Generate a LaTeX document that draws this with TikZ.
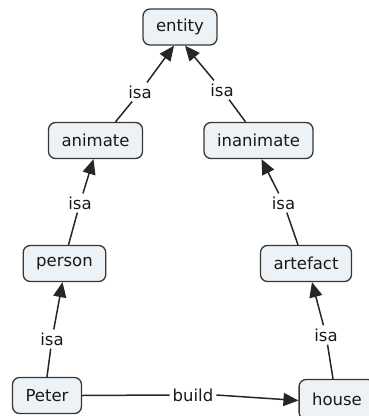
\documentclass[tikz,border=0pt]{standalone}
\usepackage{fontspec}
\setmainfont{DejaVu Sans}
\usetikzlibrary{arrows.meta}
\definecolor{conceptfill}{RGB}{236,242,245}
\definecolor{conceptline}{RGB}{55,55,55}
\definecolor{inktext}{RGB}{25,25,25}
\tikzset{
  concept/.style={draw=conceptline, line width=1.3pt, fill=conceptfill,
    rounded corners=7pt, inner xsep=13pt, inner ysep=0pt,
    minimum height=36pt, text=inktext,
    font=\fontsize{16.5}{18}\selectfont},
  linkword/.style={inner sep=3pt, text=inktext,
    font=\fontsize{16.5}{18}\selectfont},
  link/.style={line width=1.5pt, draw=black!85},
  linkarrow/.style={link, -{Triangle[length=15pt,width=13pt]}}
}
\begin{document}
\begin{tikzpicture}[x=1pt,y=-1pt]
  \useasboundingbox (0,0) rectangle (369,416);

  % concepts
  \node[concept] (entity)    at (180,27)    {entity};
  \node[concept] (animate)   at (95.5,140.5) {animate};
  \node[concept] (inanimate) at (258.5,140.5) {inanimate};
  \node[concept] (person)    at (64.5,263.5) {person};
  \node[concept] (artefact)  at (306,263.5) {artefact};
  \node[concept] (peter)     at (47,395.5)  {Peter};
  \node[concept, minimum height=40pt] (house) at (337,399.5) {house};

  % linking phrases
  \node[linkword] (l1) at (140,92)  {isa};
  \node[linkword] (l2) at (222,90)  {isa};
  \node[linkword] (l3) at (80,203)  {isa};
  \node[linkword] (l4) at (283.5,203) {isa};
  \node[linkword] (l5) at (52,339)  {isa};
  \node[linkword] (l6) at (326,335) {isa};
  \node[linkword] (l7) at (193,395) {build};

  % animate isa entity
  \draw[link] ([xshift=20pt]animate.north) -- (l1);
  \draw[linkarrow] (l1) -- ([xshift=-6pt]entity.south);
  % inanimate isa entity
  \draw[link] ([xshift=-13pt]inanimate.north) -- (l2);
  \draw[linkarrow] (l2) -- ([xshift=5pt]entity.south);
  % person isa animate
  \draw[link] ([xshift=4pt]person.north) -- (l3);
  \draw[linkarrow] (l3) -- ([xshift=-2pt]animate.south);
  % artefact isa inanimate
  \draw[link] ([xshift=-8pt]artefact.north) -- (l4);
  \draw[linkarrow] (l4) -- ([xshift=3pt]inanimate.south);
  % Peter isa person
  \draw[link] (peter.north) -- (l5);
  \draw[linkarrow] (l5) -- ([xshift=-2pt]person.south);
  % house isa artefact
  \draw[link] ([xshift=-4pt]house.north) -- (l6);
  \draw[linkarrow] (l6) -- ([xshift=6pt]artefact.south);
  % Peter build house
  \draw[link] (peter.east) -- (l7.west);
  \draw[linkarrow] (l7.east) -- ([yshift=-1pt]house.west);
\end{tikzpicture}
\end{document}
